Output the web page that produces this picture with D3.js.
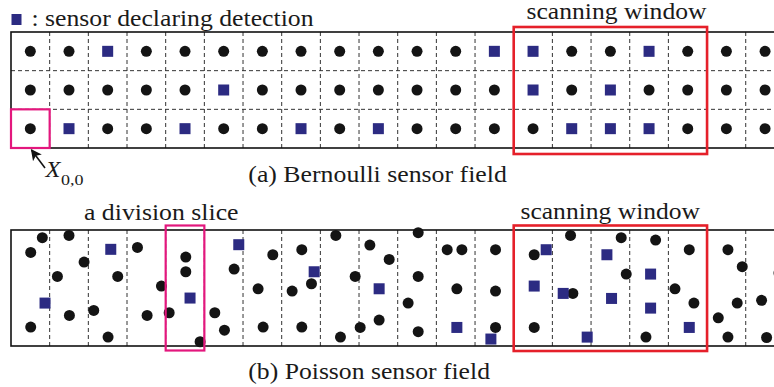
<!DOCTYPE html>
<html>
<head>
<meta charset="utf-8">
<script src="https://cdn.jsdelivr.net/npm/d3@7"></script>
<style>
  html, body { margin: 0; padding: 0; background: #fff; }
  svg { display: block; }
</style>
</head>
<body>
<svg id="chart" width="774" height="387"></svg>
<script>
// ---- field dimensions (cells) ----
const nCols = 20;
const nRows = 3;

// Bernoulli field: detection flags per row, listed from the top row down
const bernoulliRowTop = [0,0,1,0,0,0,0,0,0,0,0,0,1,1,0,0,1,0,0,0];
const bernoulliRowMid = [0,0,0,0,0,1,0,0,0,0,0,0,0,1,0,1,0,0,0,0];
const bernoulliRowBot = [0,1,0,0,1,0,0,1,0,1,0,0,0,0,1,1,1,0,0,0];

// Poisson field: sensor positions in cell units (x along the strip, y up from bottom)
const poissonX = [0.81,0.51,1.50,2.58,1.89,1.20,3.27,2.76,3.89,4.52,4.52,4.63,0.88,1.51,2.14,0.51,2.51,3.52,4.09,4.89,
                  5.89,5.77,6.77,6.39,5.27,5.52,6.52,7.52,7.84,7.77,7.27,7.52,8.40,9.28,9.78,8.90,9.52,9.52,9.03,8.52,
                  10.53,10.53,10.27,10.53,11.28,11.66,11.53,11.53,12.53,12.53,12.53,12.41,13.53,13.84,13.53,13.53,14.47,14.28,14.53,14.90,
                  15.78,15.41,15.91,15.53,16.67,16.54,16.54,16.42,17.54,17.17,17.66,17.54,18.54,18.91,18.78,18.29,18.54,19.41,19.54,19.86];
const poissonY = [2.80,2.42,2.86,2.50,2.17,1.80,2.55,1.80,1.55,2.30,1.92,1.24,1.11,0.79,0.92,0.49,0.23,0.79,0.86,0.11,
                  2.62,1.99,2.36,1.48,0.86,0.41,0.49,2.49,1.92,1.61,1.42,0.49,2.86,2.61,2.24,1.80,1.48,0.67,0.48,0.23,
                  2.93,1.80,1.11,0.37,2.49,2.49,1.48,0.48,2.49,1.42,0.48,0.18,2.36,2.49,1.55,0.48,2.86,1.36,1.36,0.23,
                  2.80,2.36,1.86,1.23,2.74,1.86,0.98,0.23,2.49,1.48,1.11,0.48,2.49,2.05,1.11,0.73,0.23,1.18,0.22,1.89];
const poissonDetect = [0,0,0,1,0,0,0,0,0,0,0,1,1,0,0,0,0,0,0,0,
                       1,0,0,0,0,0,0,0,1,0,0,0,0,0,0,0,1,0,0,0,
                       0,0,0,0,0,0,0,1,0,0,0,1,0,1,1,0,0,1,0,1,
                       0,1,0,1,0,1,1,0,0,0,0,1,0,0,0,0,0,0,0,0];

// scanning window and highlighted slice, in columns
const windowCols = [13, 18];
const sliceCols = [4, 5];

// labels
const legendText = ": sensor declaring detection";
const windowLabel = "scanning window";
const sliceLabel = "a division slice";
const captionA = "(a) Bernoulli sensor field";
const captionB = "(b) Poisson sensor field";

// ---- styling ----
const BLUE = "#2c2b82";
const DOT = "#141414";
const RED = "#e5202a";
const PINK = "#e3177d";
const SERIF = "'Liberation Serif', 'Times New Roman', serif";

const svg = d3.select("#chart");
const cell = 38.67;
const x = d3.scaleLinear().domain([0, nCols]).range([11, 11 + nCols * cell]);
const yTop = d3.scaleLinear().domain([0, nRows]).range([148, 32]);
const yBot = d3.scaleLinear().domain([0, nRows]).range([346, 230]);

// text set in a serif face, stretched to a fixed run length
function label(txt, x0, baseline, width, size, opts = {}) {
  const t = svg.append("text")
    .attr("x", x0).attr("y", baseline)
    .style("font-family", SERIF)
    .style("fill", "#1a1a1a")
    .attr("font-size", size)
    .attr("textLength", width)
    .attr("lengthAdjust", "spacingAndGlyphs")
    .text(txt);
  if (opts.italic) t.style("font-style", "italic");
  return t;
}

function drawFrame(y, horizontalGrid) {
  const g = svg.append("g");
  // dashed cell dividers
  g.selectAll("line.v").data(d3.range(1, nCols)).join("line")
    .attr("x1", d => x(d)).attr("x2", d => x(d))
    .attr("y1", y(nRows)).attr("y2", y(0))
    .attr("stroke", "#333").attr("stroke-width", 1)
    .attr("stroke-dasharray", "4,3");
  if (horizontalGrid) {
    g.selectAll("line.h").data(d3.range(1, nRows)).join("line")
      .attr("x1", x(0)).attr("x2", x(nCols))
      .attr("y1", d => y(d)).attr("y2", d => y(d))
      .attr("stroke", "#333").attr("stroke-width", 1)
      .attr("stroke-dasharray", "4,3");
  }
  // outer border of the strip
  g.append("rect")
    .attr("x", x(0)).attr("y", y(nRows))
    .attr("width", x(nCols) - x(0)).attr("height", y(0) - y(nRows))
    .attr("fill", "none").attr("stroke", "#111").attr("stroke-width", 1.6);
}

function drawSensors(pts, y) {
  const g = svg.append("g");
  g.selectAll("circle").data(pts.filter(p => !p.det)).join("circle")
    .attr("cx", p => x(p.x)).attr("cy", p => y(p.y)).attr("r", 5.5)
    .attr("fill", DOT);
  g.selectAll("rect").data(pts.filter(p => p.det)).join("rect")
    .attr("x", p => x(p.x) - 5.5).attr("y", p => y(p.y) - 5.5)
    .attr("width", 11).attr("height", 11)
    .attr("fill", BLUE);
}

// ---- (a) Bernoulli field ----
drawFrame(yTop, true);
const rowsFromTop = [bernoulliRowTop, bernoulliRowMid, bernoulliRowBot];
const bernoulliPts = [];
rowsFromTop.forEach((row, i) => {
  row.forEach((det, c) => bernoulliPts.push({ x: c + 0.5, y: nRows - 1 - i + 0.5, det: det === 1 }));
});
drawSensors(bernoulliPts, yTop);

// ---- (b) Poisson field ----
drawFrame(yBot, false);
const poissonPts = poissonX.map((v, i) => ({ x: v, y: poissonY[i], det: poissonDetect[i] === 1 }));
drawSensors(poissonPts, yBot);

// ---- highlight boxes ----
function box(c0, c1, yA, yB, color, width) {
  svg.append("rect")
    .attr("x", x(c0)).attr("y", yA)
    .attr("width", x(c1) - x(c0)).attr("height", yB - yA)
    .attr("fill", "none").attr("stroke", color).attr("stroke-width", width);
}
box(windowCols[0], windowCols[1], yTop(nRows) - 5, yTop(0) + 6, RED, 2.6);
box(windowCols[0], windowCols[1], yBot(nRows) - 4.5, yBot(0) + 5, RED, 2.6);
box(0, 1, yTop(1), yTop(0), PINK, 2.2);
box(sliceCols[0], sliceCols[1], yBot(nRows) - 4.5, yBot(0) + 4.5, PINK, 2.2);

// ---- legend ----
svg.append("rect").attr("x", 11.5).attr("y", 14).attr("width", 10).attr("height", 11).attr("fill", BLUE);
label(legendText, 31.5, 26, 282, 22.5);

// ---- labels ----
label(windowLabel, 526.5, 19, 180, 22.5);
label(windowLabel, 520.5, 218.5, 179.5, 22.5);
label(sliceLabel, 84, 220, 154.5, 22.5);
label(captionA, 248.3, 181.5, 258.5, 22.5);
label(captionB, 248.3, 378.5, 241.7, 22.5);

// X_{0,0} marker and arrow
svg.append("defs").append("marker")
  .attr("id", "head").attr("viewBox", "0 0 10 10")
  .attr("refX", 9).attr("refY", 5)
  .attr("markerWidth", 11).attr("markerHeight", 11)
  .attr("markerUnits", "userSpaceOnUse")
  .attr("orient", "auto")
  .append("path").attr("d", "M0,0 L10,5 L0,10 L2.5,5 Z").attr("fill", "#111");
svg.append("line")
  .attr("x1", 45).attr("y1", 168).attr("x2", 31.5).attr("y2", 150)
  .attr("stroke", "#111").attr("stroke-width", 1.6)
  .attr("marker-end", "url(#head)");
label("X", 45.5, 177, 15, 23, { italic: true });
label("0,0", 61, 185, 22.5, 15);
</script>
</body>
</html>
